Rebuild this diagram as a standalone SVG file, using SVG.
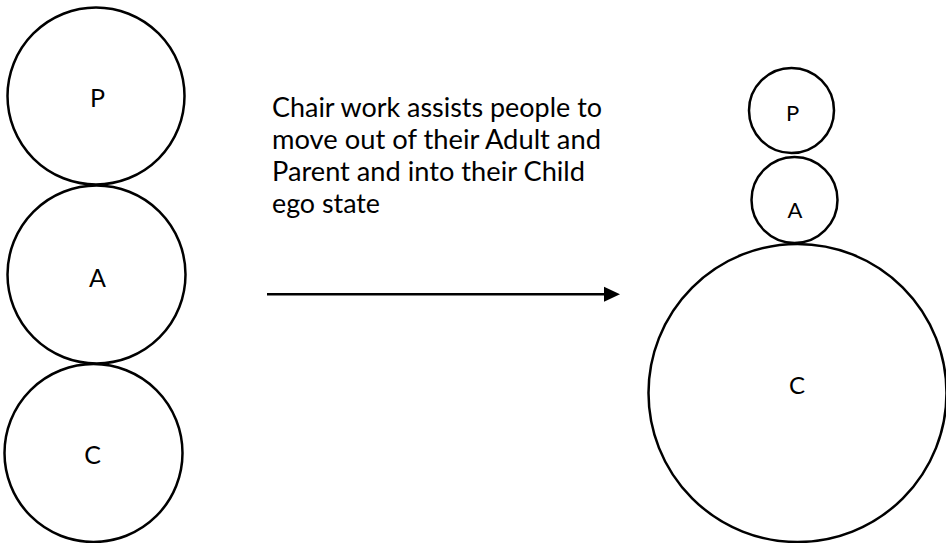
<svg xmlns="http://www.w3.org/2000/svg" width="946" height="543" viewBox="0 0 946 543">
  <style>
    .ring { fill: none; stroke: #000; stroke-width: 2.5; }
    .lbl { font-family: Lato, "Open Sans", "Liberation Sans", sans-serif; fill: #000; text-anchor: middle; }
    .txt { font-family: Lato, "Open Sans", "Liberation Sans", sans-serif; font-size: 26px; fill: #000; }
    .conn { stroke: #000; stroke-width: 2.5; fill: none; }
  </style>
  <rect x="0" y="0" width="946" height="543" fill="#fff"/>

  <g id="left-P">
    <circle class="ring" cx="96" cy="96" r="88.5"/>
    <text class="lbl" x="97.5" y="107.3" font-size="25">P</text>
  </g>
  <g id="left-A">
    <circle class="ring" cx="96.5" cy="274.5" r="89"/>
    <text class="lbl" x="97.5" y="287.3" font-size="25">A</text>
  </g>
  <g id="left-C">
    <circle class="ring" cx="93.5" cy="453" r="89"/>
    <text class="lbl" x="92.5" y="464.3" font-size="25">C</text>
  </g>

  <g id="caption">
    <text class="txt" x="272" y="116.7" textLength="330" lengthAdjust="spacingAndGlyphs">Chair work assists people to</text>
    <text class="txt" x="272" y="149" textLength="329" lengthAdjust="spacingAndGlyphs">move out of their Adult and</text>
    <text class="txt" x="272" y="181.2" textLength="313" lengthAdjust="spacingAndGlyphs">Parent and into their Child</text>
    <text class="txt" x="272" y="213.4" textLength="108" lengthAdjust="spacingAndGlyphs">ego state</text>
  </g>

  <g id="connectors">
    <line class="conn" x1="267" y1="294.3" x2="605" y2="294.3"/>
    <path d="M604,286.8 L620,294.3 L604,301.8 Z" fill="#000"/>
  </g>

  <g id="right-P">
    <circle class="ring" cx="791.5" cy="110.5" r="42.5"/>
    <text class="lbl" x="792.7" y="120.7" font-size="22">P</text>
  </g>
  <g id="right-A">
    <circle class="ring" cx="794.5" cy="200" r="43"/>
    <text class="lbl" x="795" y="218.3" font-size="22">A</text>
  </g>
  <g id="right-C">
    <circle class="ring" cx="797.5" cy="393" r="149"/>
    <text class="lbl" x="797" y="394" font-size="24">C</text>
  </g>
</svg>
